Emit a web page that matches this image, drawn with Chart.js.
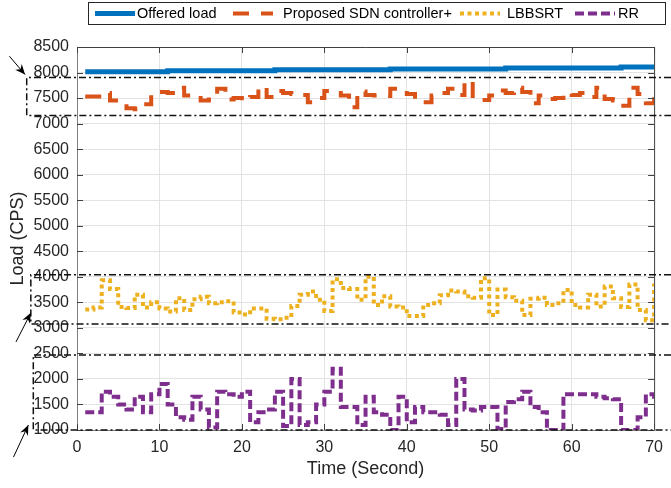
<!DOCTYPE html>
<html>
<head>
<meta charset="utf-8">
<script src="https://cdn.jsdelivr.net/npm/chart.js@4.4.1/dist/chart.umd.min.js"></script>
<style>
  html, body { margin: 0; padding: 0; background: #fff; }
  #wrap { width: 671px; height: 488px; }
</style>
</head>
<body>
<div id="wrap"><canvas id="loadChart" width="671" height="488"></canvas></div>
<script>
// time steps (seconds)
const timeSec = [1,2,3,4,5,6,7,8,9,10,11,12,13,14,15,16,17,18,19,20,
  21,22,23,24,25,26,27,28,29,30,31,32,33,34,35,36,37,38,39,40,
  41,42,43,44,45,46,47,48,49,50,51,52,53,54,55,56,57,58,59,60,
  61,62,63,64,65,66,67,68,69,70];

const offeredLoad = [8015,8015,8015,8015,8015,8015,8015,8015,8015,8015,
  8035,8035,8035,8035,8035,8035,8035,8035,8035,8035,
  8035,8035,8035,8055,8055,8055,8055,8055,8055,8055,
  8055,8055,8055,8055,8055,8055,8055,8070,8070,8070,
  8070,8070,8070,8070,8070,8070,8070,8070,8070,8070,
  8070,8090,8090,8090,8090,8090,8090,8090,8090,8090,
  8090,8090,8090,8090,8090,8110,8110,8110,8110,8110];

const proposedLoad = [7530,7530,7600,7450,7420,7300,7280,7380,7580,7620,
  7600,7700,7550,7560,7450,7580,7680,7470,7500,7450,
  7520,7720,7520,7640,7600,7580,7560,7420,7500,7640,
  7600,7550,7320,7630,7560,7550,7540,7680,7660,7580,
  7430,7420,7550,7600,7680,7560,7840,7460,7460,7550,
  7650,7600,7700,7620,7400,7550,7480,7500,7600,7560,
  7600,7520,7700,7480,7450,7350,7700,7580,7400,7600];

const lbbsrtLoad = [3360,3400,3930,3760,3410,3390,3650,3400,3500,3380,
  3320,3580,3350,3560,3610,3480,3500,3520,3300,3260,
  3380,3380,3180,3170,3200,3430,3650,3710,3550,3330,
  3950,3780,3760,3550,4000,3450,3620,3420,3400,3230,
  3230,3450,3480,3640,3730,3710,3620,3590,3970,3250,
  3750,3600,3530,3250,3570,3590,3450,3480,3740,3450,
  3400,3650,3420,3810,3580,3410,3850,3350,3150,3870];

const rrLoad = [1350,1350,1750,1650,1500,1400,1650,1350,1700,1900,
  1500,1250,1200,1650,1400,1050,1750,1700,1650,1750,
  1150,1350,1400,1750,1080,2000,1100,1150,1500,1750,
  2200,1450,1450,1100,1650,1350,1300,1000,1650,1150,
  1450,1350,1350,1300,1100,2000,1400,1380,1450,1450,
  1020,1550,1600,1750,1450,1350,1000,1000,1700,1700,
  1700,1700,1650,1620,1600,1000,1000,1250,1700,1600];

const xTicks = [0,10,20,30,40,50,60,70];
const yTicks = [1000,1500,2000,2500,3000,3500,4000,4500,5000,5500,6000,6500,7000,7500,8000,8500];
const seriesNames = ['Offered load', 'Proposed SDN controller+', 'LBBSRT', 'RR'];

// zoom boxes + arrows, in axis units (they reach left past the y axis)
const zoomBoxes = [
  { xFrom: -6.1, yMin: 7157, yMax: 7902 },
  { xFrom: -5.6, yMin: 3078, yMax: 4040 },
  { xFrom: -5.3, yMin: 1000, yMax: 2470 }
];
const zoomArrows = [
  { from: [-8.2, 8320], to: [-6.3, 7960] },
  { from: [-7.4, 2725], to: [-5.6, 3294] },
  { from: [-7.7, 470], to: [-5.9, 1098] }
];

const colors = ['#0072BD', '#D95319', '#EDB120', '#7E2F8E'];
const dashes = [[], [16, 12], [4, 3.5], [9, 4]];
const widths = [5, 4, 4, 4];

function toPoints(vals) {
  return timeSec.map((t, i) => ({ x: t, y: vals[i] }));
}

const allSeries = [offeredLoad, proposedLoad, lbbsrtLoad, rrLoad];

const notesPlugin = {
  id: 'notesPlugin',
  afterDraw(chart) {
    const { ctx, chartArea: a } = chart;
    const x = chart.scales.x, y = chart.scales.y;
    ctx.save();

    // top and right frame
    ctx.strokeStyle = '#404040';
    ctx.lineWidth = 1;
    ctx.beginPath();
    ctx.moveTo(a.left, a.top + 0.5);
    ctx.lineTo(a.right + 0.5, a.top + 0.5);
    ctx.lineTo(a.right + 0.5, a.bottom);
    ctx.stroke();

    // inward ticks on all sides
    ctx.beginPath();
    yTicks.forEach(v => {
      const py = Math.round(y.getPixelForValue(v)) + 0.5;
      ctx.moveTo(a.left, py); ctx.lineTo(a.left + 6, py);
      ctx.moveTo(a.right, py); ctx.lineTo(a.right - 6, py);
    });
    xTicks.forEach(v => {
      const px = Math.round(x.getPixelForValue(v)) + 0.5;
      ctx.moveTo(px, a.bottom); ctx.lineTo(px, a.bottom - 6);
      ctx.moveTo(px, a.top); ctx.lineTo(px, a.top + 6);
    });
    ctx.stroke();

    // dash-dot zoom boxes
    ctx.strokeStyle = '#111';
    ctx.lineWidth = 1.5;
    ctx.setLineDash([7, 3, 2, 3]);
    zoomBoxes.forEach(b => {
      const l = x.getPixelForValue(b.xFrom);
      const t = y.getPixelForValue(b.yMax);
      const btm = y.getPixelForValue(b.yMin);
      ctx.beginPath();
      ctx.moveTo(chart.width, t);
      ctx.lineTo(l, t);
      ctx.lineTo(l, btm);
      ctx.lineTo(chart.width, btm);
      ctx.stroke();
    });
    ctx.setLineDash([]);

    // arrows
    ctx.fillStyle = '#000';
    ctx.strokeStyle = '#000';
    ctx.lineWidth = 1;
    zoomArrows.forEach(ar => {
      const x0 = x.getPixelForValue(ar.from[0]), y0 = y.getPixelForValue(ar.from[1]);
      const x1 = x.getPixelForValue(ar.to[0]), y1 = y.getPixelForValue(ar.to[1]);
      const ang = Math.atan2(y1 - y0, x1 - x0);
      ctx.beginPath();
      ctx.moveTo(x0, y0); ctx.lineTo(x1, y1);
      ctx.stroke();
      ctx.beginPath();
      ctx.moveTo(x1, y1);
      ctx.lineTo(x1 - 11 * Math.cos(ang - 0.4), y1 - 11 * Math.sin(ang - 0.4));
      ctx.lineTo(x1 - 7 * Math.cos(ang), y1 - 7 * Math.sin(ang));
      ctx.lineTo(x1 - 11 * Math.cos(ang + 0.4), y1 - 11 * Math.sin(ang + 0.4));
      ctx.closePath();
      ctx.fill();
    });

    // legend box
    ctx.fillStyle = '#fff';
    ctx.fillRect(88, 2, 577, 22);
    ctx.strokeStyle = '#262626';
    ctx.lineWidth = 1;
    ctx.strokeRect(88.5, 2.5, 577, 22);
    const sampleX = [95, 233, 460, 575];
    const textX = [137, 283, 507, 618];
    ctx.font = '14.5px "Liberation Sans", Arial, sans-serif';
    ctx.textBaseline = 'middle';
    seriesNames.forEach((name, i) => {
      ctx.strokeStyle = colors[i];
      ctx.lineWidth = widths[i];
      ctx.lineCap = 'butt';
      ctx.setLineDash(dashes[i]);
      ctx.beginPath();
      ctx.moveTo(sampleX[i], 13.5);
      ctx.lineTo(sampleX[i] + 40, 13.5);
      ctx.stroke();
      ctx.setLineDash([]);
      ctx.fillStyle = '#000';
      ctx.fillText(name, textX[i], 14);
    });
    ctx.restore();
  }
};

const tickFont = { family: '"Liberation Sans", Arial, sans-serif', size: 16 };
const titleFont = { family: '"Liberation Sans", Arial, sans-serif', size: 18 };

new Chart(document.getElementById('loadChart'), {
  type: 'line',
  data: {
    datasets: allSeries.map((vals, i) => ({
      label: seriesNames[i],
      data: toPoints(vals),
      borderColor: colors[i],
      backgroundColor: colors[i],
      borderWidth: widths[i],
      borderDash: dashes[i],
      borderCapStyle: 'butt',
      borderJoinStyle: 'miter',
      stepped: 'before',
      pointRadius: 0,
      fill: false
    }))
  },
  options: {
    responsive: false,
    animation: false,
    devicePixelRatio: 1,
    layout: { padding: { left: 0, right: 10, top: 47, bottom: 0 } },
    plugins: { legend: { display: false }, tooltip: { enabled: false } },
    scales: {
      x: {
        type: 'linear',
        min: 0, max: 70,
        afterFit: s => { s.height = 58; },
        afterBuildTicks: s => { s.ticks = xTicks.map(v => ({ value: v })); },
        grid: { color: '#e3e3e3', drawTicks: false },
        border: { color: '#7f7f7f' },
        ticks: { font: tickFont, color: '#262626', padding: 8, maxRotation: 0, callback: v => String(v) },
        title: { display: true, text: 'Time (Second)', font: titleFont, color: '#262626', padding: { top: 0, bottom: 8 } }
      },
      y: {
        min: 1000, max: 8500,
        afterFit: s => { s.width = 77; },
        afterBuildTicks: s => { s.ticks = yTicks.map(v => ({ value: v })); },
        grid: { color: '#e3e3e3', drawTicks: false },
        border: { color: '#7f7f7f' },
        ticks: { font: tickFont, color: '#262626', padding: 8, callback: v => String(v) },
        title: { display: true, text: 'Load (CPS)', font: titleFont, color: '#262626', padding: { top: 7, bottom: 0 } }
      }
    }
  },
  plugins: [notesPlugin]
});
</script>
</body>
</html>
